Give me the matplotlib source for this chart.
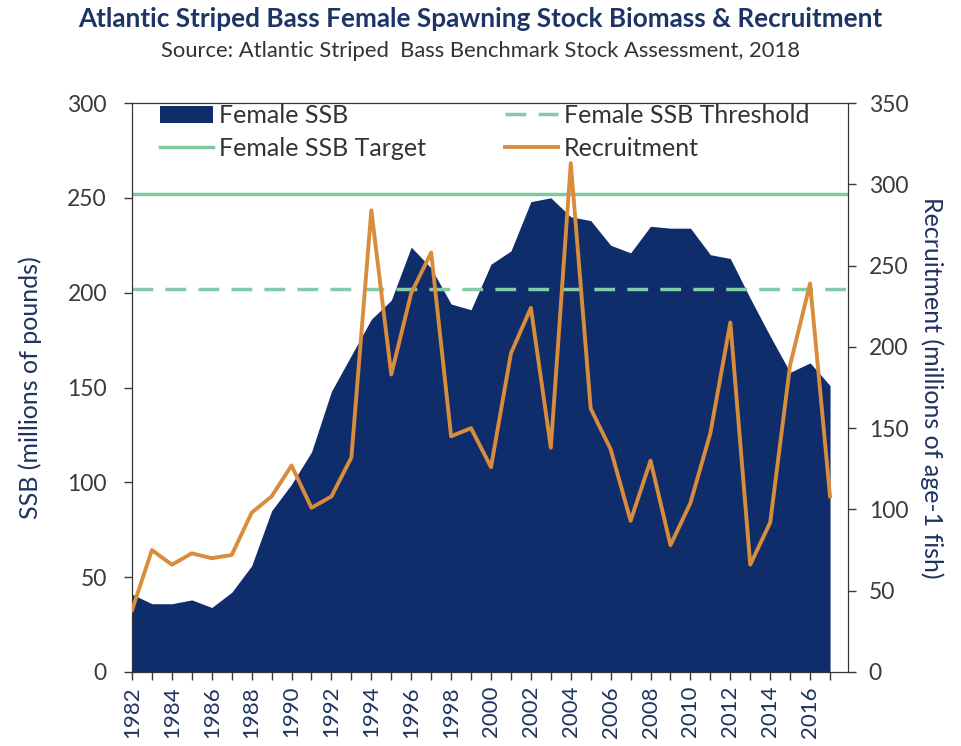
import matplotlib.pyplot as plt
from matplotlib.patches import Patch
from matplotlib.lines import Line2D

years = list(range(1982, 2018))

# female spawning stock biomass, millions of pounds
ssb = [41, 36, 36, 38, 34, 42, 56, 85, 99, 116, 148, 167, 186, 196, 224, 213, 194, 191,
       215, 222, 248, 250, 240, 238, 225, 221, 235, 234, 234, 220, 218, 197, 177, 158,
       163, 151]

# recruitment, millions of age-1 fish
recruitment = [38, 75, 66, 73, 70, 72, 98, 108, 127, 101, 108, 132, 284, 183, 233, 258,
               145, 150, 126, 196, 224, 138, 313, 162, 137, 93, 130, 78, 104, 147, 215,
               66, 92, 189, 239, 108]

ssb_target = 252
ssb_threshold = 202

navy = '#0f2d6b'
green = '#7fc9a0'
green_dash = '#82cbab'
orange = '#d98c3c'
text_col = '#1f3360'
tick_col = '#3a3a3a'

plt.rcParams['font.family'] = ['Lato', 'DejaVu Sans']

W, H = 961, 746
fig = plt.figure(figsize=(W / 100, H / 100), dpi=100)
ax = fig.add_axes([132 / W, 1 - 672 / H, (848 - 132) / W, (672 - 103) / H])
ax2 = ax.twinx()

ax.fill_between(years, ssb, 0, color=navy, linewidth=0, zorder=1)
ax.axhline(ssb_target, color=green, linewidth=2.5, zorder=2)
dash = (0, (6, 3.5))
ax.axhline(ssb_threshold, color=green_dash, linewidth=2.5, linestyle=dash, zorder=2)
ax2.plot(years, recruitment, color=orange, linewidth=2.8, zorder=3)

ax.set_xlim(1982, 2017.9)
ax.set_ylim(0, 300)
ax2.set_ylim(0, 350)
ax.set_xticks(years)
ax.set_xticklabels([str(y) if y % 2 == 0 else '' for y in years], rotation=90)
ax.set_yticks(range(0, 301, 50))
ax2.set_yticks(range(0, 351, 50))

for a in (ax, ax2):
    a.tick_params(labelsize=16.5, colors=tick_col, labelcolor=tick_col, length=6, width=1)
    for s in a.spines.values():
        s.set_color('#333333')
ax.tick_params(axis='y', pad=12)
ax2.tick_params(axis='y', pad=9)
ax.tick_params(axis='x', labelsize=16, pad=4, labelcolor=text_col)

ax.set_ylabel('SSB (millions of pounds)', fontsize=18, color=text_col, labelpad=18)
ax2.set_ylabel('Recruitment (millions of age-1 fish)', fontsize=18, color=text_col,
               rotation=270, labelpad=25)

fig.text(0.5, 1 - 19 / H, 'Atlantic Striped Bass Female Spawning Stock Biomass & Recruitment',
         ha='center', va='center', fontsize=18.8, fontweight='bold', color='#1d3566')
fig.text(0.5, 1 - 51 / H, 'Source: Atlantic Striped  Bass Benchmark Stock Assessment, 2018',
         ha='center', va='center', fontsize=15.8, color='#333333')

h_ssb = Patch(facecolor=navy, edgecolor='none')
h_target = Line2D([], [], color=green, linewidth=2.5)
h_thresh = Line2D([], [], color=green_dash, linewidth=2.5, linestyle=dash)
h_rec = Line2D([], [], color=orange, linewidth=2.8)

leg_kw = dict(frameon=False, loc='upper left', fontsize=18, handlelength=2.1,
              handletextpad=0.25, labelspacing=0.4, borderpad=0, borderaxespad=0)
leg1 = fig.legend([h_ssb, h_target], ['Female SSB', 'Female SSB Target'],
                  bbox_to_anchor=(160 / W, 1 - 104 / H), **leg_kw)
leg2 = fig.legend([h_thresh, h_rec], ['Female SSB Threshold', 'Recruitment'],
                  bbox_to_anchor=(505 / W, 1 - 104 / H), **leg_kw)
for leg in (leg1, leg2):
    for t in leg.get_texts():
        t.set_color('#333333')

fig.savefig('out.png', dpi=100)
